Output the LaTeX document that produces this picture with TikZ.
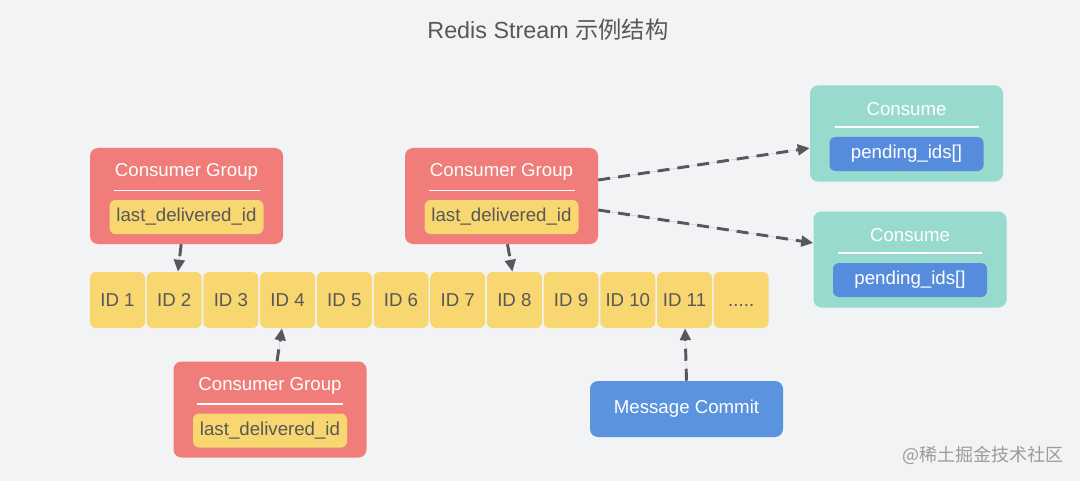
\documentclass[tikz,border=0pt]{standalone}
\usepackage{fontspec}
\setmainfont{Liberation Sans}
\newfontfamily\cjk{Noto Sans CJK SC}
\usetikzlibrary{arrows.meta}
\definecolor{bggray}{RGB}{242,243,245}
\definecolor{cgred}{RGB}{240,125,122}
\definecolor{idyellow}{RGB}{248,214,112}
\definecolor{consteal}{RGB}{152,218,205}
\definecolor{pendblue}{RGB}{86,140,220}
\definecolor{commitblue}{RGB}{90,147,222}
\definecolor{textgray}{RGB}{88,88,88}
\definecolor{arrowgray}{RGB}{88,88,92}
\definecolor{markgray}{RGB}{155,155,158}

\begin{document}
\begin{tikzpicture}[x=0.75pt,y=-0.75pt,>={Triangle[length=9pt,width=8pt]},
	boxfont/.style={font=\fontsize{14}{17}\selectfont},
	bigbox/.style={rounded corners=6pt,minimum width=144.75pt,minimum height=72pt,inner sep=0pt},
	cgbox/.style={bigbox,fill=cgred},
	consbox/.style={bigbox,fill=consteal},
	boxtitle/.style={boxfont,text=white,inner sep=0pt},
	sepline/.style={draw=white,line width=1.2pt},
	lastid/.style={boxfont,fill=idyellow,text=textgray,rounded corners=4.5pt,minimum width=115.5pt,minimum height=25.5pt,inner sep=0pt},
	pending/.style={boxfont,fill=pendblue,text=white,rounded corners=4.5pt,minimum width=115.5pt,minimum height=25.5pt,inner sep=0pt},
	idcell/.style={boxfont,fill=idyellow,text=textgray,rounded corners=4.5pt,minimum width=41.25pt,minimum height=42pt,inner sep=0pt,text height=10pt,text depth=0pt},
	commit/.style={boxfont,fill=commitblue,text=white,rounded corners=6pt,minimum width=144.75pt,minimum height=42pt,inner sep=0pt},
	flow/.style={->,draw=arrowgray,fill=arrowgray,line width=2.2pt,dash pattern=on 9pt off 6pt}]
	\fill[bggray] (0,0) rectangle (1080,481);
	\node[font=\fontsize{17.5}{21}\selectfont,text=textgray] (title) at (548,30) {Redis Stream {\cjk 示例结构}};
	% stream entries
	\def\pitch{56.7}
	\foreach \i in {1,...,11}
	{
		\node[idcell] (id\i) at ({117.5+(\i-1)*\pitch},300) {ID \i};
	}
	\node[idcell] (idmore) at ({117.5+11*\pitch},300) {.....};
	% consumer groups
	\foreach \n/\x/\y in {cg1/186.5/196,cg2/501.5/196,cg3/270/409.5}
	{
		\node[cgbox] (\n) at (\x,\y) {};
		\node[boxtitle] (\n-title) at (\x,\y-24) {Consumer Group};
		\draw[sepline] (\x-73,\y-5.5) -- (\x+73,\y-5.5);
		\node[lastid] (\n-id) at (\x,\y+21) {last\_delivered\_id};
	}
	% consumers
	\foreach \n/\x/\y in {cons1/906.5/133.5,cons2/910/259.5}
	{
		\node[consbox] (\n) at (\x,\y) {};
		\node[boxtitle] (\n-title) at (\x,\y-24) {Consume};
		\draw[sepline] (\x-72,\y-6.5) -- (\x+72,\y-6.5);
		\node[pending] (\n-ids) at (\x,\y+20.5) {pending\_ids[]};
	}
	\node[commit] (commit) at (686.5,409) {Message Commit};
	\draw[flow] ([xshift=-4pt]cg1.south) -- ([xshift=2.8pt]id2.north);
	\draw[flow] ([xshift=4.5pt]cg2.south) -- ([xshift=-1.5pt]id8.north);
	\draw[flow] ([xshift=5.25pt]cg3.north) -- ([xshift=-4.2pt]id4.south);
	\draw[flow] (commit.north) -- ([xshift=0.4pt]id11.south);
	\draw[flow] ([yshift=12pt]cg2.east) -- ([yshift=-10.9pt]cons1.west);
	\draw[flow] ([yshift=-10.5pt]cg2.east) -- ([yshift=12.4pt]cons2.west);
	\node[font=\cjk\fontsize{13.5}{16}\selectfont,text=markgray] (mark) at (983,455) {@稀土掘金技术社区};
\end{tikzpicture}
\end{document}
